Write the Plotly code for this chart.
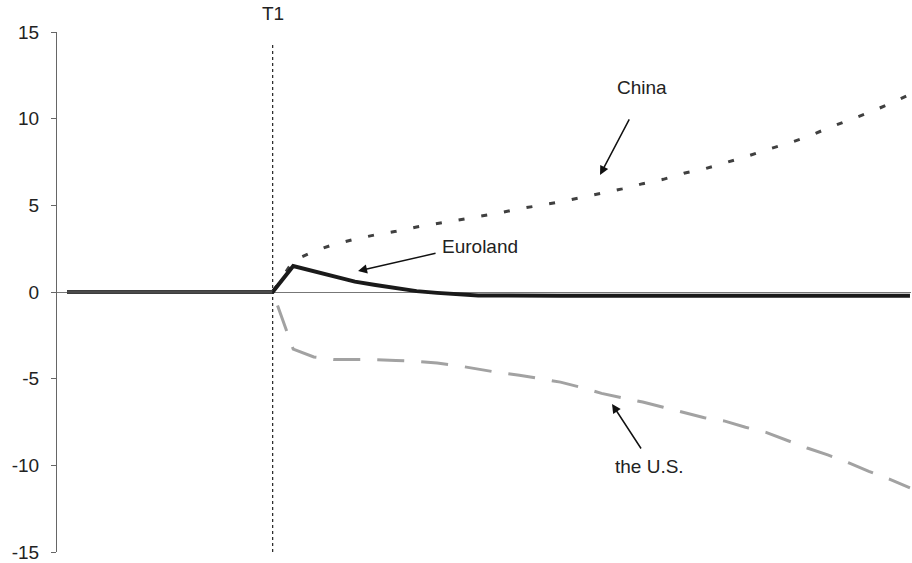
import plotly.graph_objects as go

# Period index; the shock hits at T1
periods = list(range(0, 42))
t1 = 10

pre = [0.0] * 11  # periods 0..10

china = pre + [1.8, 2.35, 2.75, 3.05, 3.3, 3.5, 3.75, 3.95, 4.15, 4.35,
               4.55, 4.8, 5.0, 5.2, 5.45, 5.7, 5.95, 6.25, 6.5, 6.85,
               7.1, 7.45, 7.8, 8.2, 8.55, 8.95, 9.45, 9.9, 10.35, 10.85, 11.4]

euroland = pre + [1.5, 1.2, 0.85, 0.6, 0.4, 0.2, 0.05, -0.05, -0.15, -0.2,
                  -0.2, -0.22, -0.22, -0.22, -0.22, -0.22, -0.22, -0.22, -0.22, -0.22,
                  -0.22, -0.22, -0.22, -0.22, -0.22, -0.22, -0.22, -0.22, -0.22, -0.22, -0.22]

us = pre + [-3.3, -3.75, -3.9, -3.9, -3.9, -3.95, -4.0, -4.1, -4.25, -4.45,
            -4.65, -4.8, -5.0, -5.2, -5.5, -5.85, -6.1, -6.35, -6.65, -6.95,
            -7.25, -7.45, -7.8, -8.1, -8.55, -9.0, -9.4, -9.85, -10.35, -10.8, -11.3]

y_ticks = [-15, -10, -5, 0, 5, 10, 15]
y_tick_text = ["-15", "-10", "-5", "0", "5", "10", "15"]

font_family = "Liberation Sans, Arial, sans-serif"

fig = go.Figure()

fig.add_trace(go.Scatter(
    x=periods, y=us, mode="lines", name="the U.S.",
    line=dict(color="#a2a2a2", width=3, dash="27px,17px"),
))
fig.add_trace(go.Scatter(
    x=periods, y=china, mode="lines", name="China",
    line=dict(color="#404040", width=3, dash="6px,17px"),
))
fig.add_trace(go.Scatter(
    x=periods, y=euroland, mode="lines", name="Euroland",
    line=dict(color="#1a1a1a", width=4),
))
# common pre-shock path
fig.add_trace(go.Scatter(
    x=periods[:t1 + 1], y=pre, mode="lines", showlegend=False,
    line=dict(color="#4a4a4a", width=3.5),
))

# T1 marker line
fig.add_shape(type="line", x0=t1, x1=t1, y0=-15, y1=14.4,
              xref="x", yref="y",
              line=dict(color="#222222", width=1.2, dash="dot"))

label_font = dict(size=19, color="#222")

annotations = [
    dict(x=t1, y=1, xref="x", yref="paper", text="T1", showarrow=False,
         yanchor="bottom", yshift=6, font=label_font),
    dict(x=(642 - 67) / 20.56, y=(292 - 88) / 17.33, xref="x", yref="y",
         text="China", showarrow=False, font=label_font),
    dict(x=(440 - 67) / 20.56, y=(292 - 247) / 17.33, xref="x", yref="y",
         text="Euroland", showarrow=False, xanchor="left", font=label_font),
    dict(x=(649 - 67) / 20.56, y=(292 - 466) / 17.33, xref="x", yref="y",
         text="the U.S.", showarrow=False, font=label_font),
]

# arrows pointing from labels to their series
arrows = [
    ((630, 118), (600, 175)),
    ((437, 253), (358, 271)),
    ((642, 450), (612, 404)),
]
for (tx, ty), (hx, hy) in arrows:
    annotations.append(dict(
        x=(hx - 67) / 20.56, y=(292 - hy) / 17.33,
        ax=(tx - 67) / 20.56, ay=(292 - ty) / 17.33,
        xref="x", yref="y", axref="x", ayref="y",
        text="", showarrow=True, arrowhead=2, arrowsize=1.2,
        arrowwidth=1.5, arrowcolor="#111",
    ))

fig.update_layout(
    width=912, height=563,
    margin=dict(l=57, r=1, t=32, b=11),
    paper_bgcolor="white", plot_bgcolor="white",
    showlegend=False,
    font=dict(family=font_family, color="#222"),
    annotations=annotations,
    xaxis=dict(range=[-0.49, 41.05], showticklabels=False, showgrid=False,
               zeroline=False, showline=False, ticks=""),
    yaxis=dict(range=[-15, 15], tickvals=y_ticks, ticktext=y_tick_text,
               showgrid=False, zeroline=True, zerolinecolor="#777",
               zerolinewidth=1, showline=True, linecolor="#666", linewidth=1,
               ticks="outside", ticklen=5, tickcolor="#666",
               ticklabelstandoff=8,
               tickfont=dict(size=19, color="#222")),
)

fig.write_html("out.html")
